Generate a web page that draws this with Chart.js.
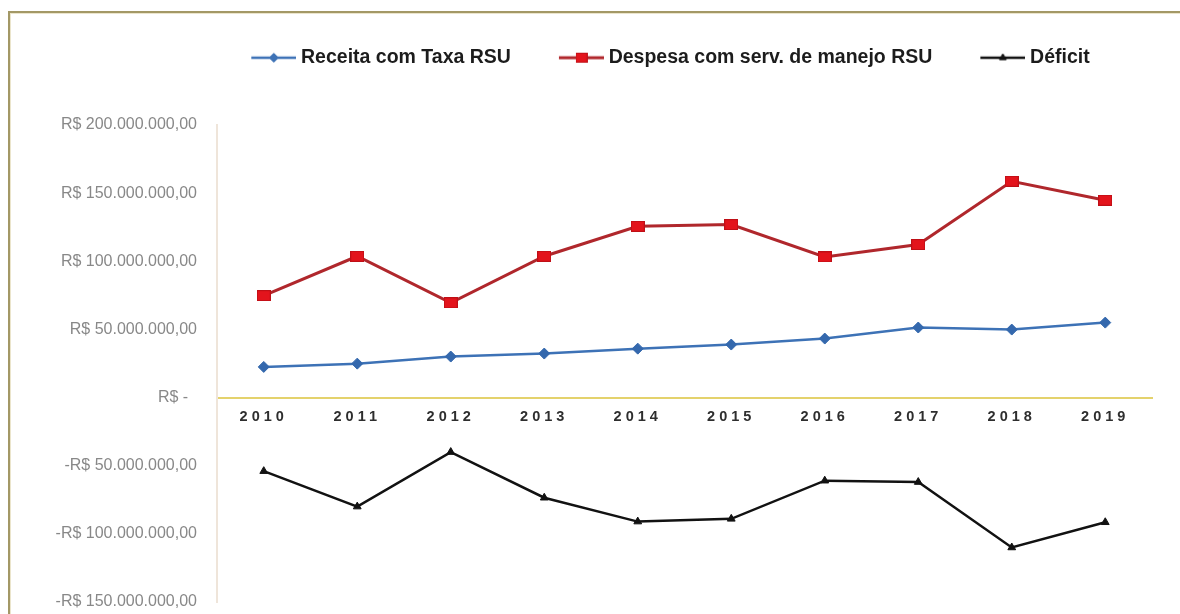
<!DOCTYPE html>
<html lang="pt-BR">
<head>
<meta charset="utf-8">
<title>Receita com Taxa RSU x Despesa com manejo RSU</title>
<script src="https://cdn.jsdelivr.net/npm/chart.js@4.4.1/dist/chart.umd.min.js"></script>
<style>
  html, body { margin: 0; padding: 0; background: #ffffff; }
  #moldura {
    position: absolute; left: 8px; top: 11px; width: 1300px; height: 700px;
    border-left: 2px solid #a39866; border-top: 2px solid #a39866;
    box-shadow: inset 1px 1px 0 #ebe5cc;
  }
  #area { position: absolute; left: 0; top: 0; width: 1180px; height: 614px; }
</style>
</head>
<body>
<div id="moldura"></div>
<div id="area"><canvas id="grafico" width="1180" height="614"></canvas></div>
<script>
// Valores em milhões de R$
const anos = ['2010', '2011', '2012', '2013', '2014', '2015', '2016', '2017', '2018', '2019'];
const receitaTaxaRSU = [22.5, 24.9, 30.1, 32.3, 35.9, 38.9, 43.3, 51.4, 49.9, 55.0];
const despesaManejoRSU = [74.8, 103.7, 69.5, 103.7, 125.7, 126.9, 103.2, 112.3, 158.7, 144.8];
const deficitRSU = [-54.0, -80.0, -40.0, -73.5, -91.0, -89.0, -61.0, -62.0, -110.0, -91.5];
const nomesSeries = ['Receita com Taxa RSU', 'Despesa com serv. de manejo RSU', 'Déficit'];
const eixoYMin = -150;
const eixoYMax = 200;
const eixoYPasso = 50;

const FONTE = '"Liberation Sans", Arial, sans-serif';
const AZUL = '#3d72b6';
const VERMELHO_LINHA = '#b0272c';
const VERMELHO_MARCA = '#e3141c';
const PRETO = '#121212';

// Formato contábil brasileiro: R$ 150.000.000,00 / -R$ 50.000.000,00 / R$ -
function formatoReais(milhoes) {
  const v = Math.round(milhoes * 1e6);
  if (v === 0) return 'R$ -  ';
  const inteiro = String(Math.abs(v)).replace(/\B(?=(\d{3})+(?!\d))/g, '.');
  return (v < 0 ? '-' : '') + 'R$ ' + inteiro + ',00';
}

function novoCanvas(w, h, desenhar) {
  const c = document.createElement('canvas');
  c.width = w; c.height = h;
  desenhar(c.getContext('2d'), w, h);
  return c;
}

// Marcador retangular vermelho da série de despesas
const marcaDespesa = novoCanvas(14, 11, (g, w, h) => {
  g.fillStyle = VERMELHO_MARCA;
  g.fillRect(0, 0, w, h);
  g.strokeStyle = '#bf0f16';
  g.lineWidth = 1;
  g.strokeRect(0.5, 0.5, w - 1, h - 1);
});

// Amostras da legenda: segmento de linha com o marcador no meio
function amostraLegenda(cor, largura, marcador) {
  return novoCanvas(80, 20, (g, w, h) => {
    g.strokeStyle = cor;
    g.lineWidth = largura;
    g.beginPath();
    g.moveTo(35, h / 2);
    g.lineTo(w, h / 2);
    g.stroke();
    marcador(g, 57.5, h / 2);
  });
}

function pontoChart(g, estilo, raio, cor, x, y) {
  g.fillStyle = cor;
  g.strokeStyle = cor;
  g.lineWidth = 1;
  if (Chart.helpers && Chart.helpers.drawPoint) {
    Chart.helpers.drawPoint(g, { pointStyle: estilo, radius: raio, rotation: 0, borderWidth: 1 }, x, y);
  } else {
    g.beginPath();
    if (estilo === 'rectRot') {
      g.moveTo(x - raio, y); g.lineTo(x, y - raio); g.lineTo(x + raio, y); g.lineTo(x, y + raio);
    } else {
      g.moveTo(x - raio, y + raio * 0.8); g.lineTo(x, y - raio); g.lineTo(x + raio, y + raio * 0.8);
    }
    g.closePath(); g.fill(); g.stroke();
  }
}

const amostras = [
  amostraLegenda(AZUL, 2.5, (g, x, y) => pontoChart(g, 'rectRot', 4.5, AZUL, x, y)),
  amostraLegenda(VERMELHO_LINHA, 3, (g, x, y) => g.drawImage(marcaDespesa, x - 6, y - 5, 12, 10)),
  amostraLegenda(PRETO, 2.5, (g, x, y) => pontoChart(g, 'triangle', 4, PRETO, x, y))
];

const ajustesDesenho = {
  id: 'ajustesDesenho',
  afterInit(chart) {
    // espaço livre entre a legenda e a área do gráfico
    const legenda = chart.legend;
    const ajustar = legenda.fit;
    legenda.fit = function () {
      ajustar.call(this);
      this.height += 47.5;
    };
  },
  beforeDraw(chart) {
    // rótulos dos anos com letras espaçadas
    const x = chart.scales.x;
    if (x && !x._espacado) {
      const original = x.drawLabels;
      x.drawLabels = function (area) {
        const g = this.ctx;
        g.save();
        g.letterSpacing = '4px';
        original.call(this, area);
        g.restore();
      };
      x._espacado = true;
    }
    // rótulos monetários podem ultrapassar a caixa estreita do eixo
    const y = chart.scales.y;
    if (y && !y._semCorte) {
      y._computeLabelArea = () => undefined;
      y._semCorte = true;
    }
  }
};

new Chart(document.getElementById('grafico'), {
  type: 'line',
  data: {
    labels: anos,
    datasets: [
      {
        label: nomesSeries[0],
        data: receitaTaxaRSU,
        borderColor: AZUL,
        backgroundColor: AZUL,
        borderWidth: 2.5,
        pointStyle: 'rectRot',
        pointRadius: 5.5,
        pointBorderWidth: 1,
        pointBackgroundColor: '#3468ad',
        pointBorderColor: '#3468ad',
        tension: 0
      },
      {
        label: nomesSeries[1],
        data: despesaManejoRSU,
        borderColor: VERMELHO_LINHA,
        backgroundColor: VERMELHO_MARCA,
        borderWidth: 3,
        pointStyle: marcaDespesa,
        pointRadius: 7,
        tension: 0
      },
      {
        label: nomesSeries[2],
        data: deficitRSU,
        borderColor: PRETO,
        backgroundColor: PRETO,
        borderWidth: 2.5,
        pointStyle: 'triangle',
        pointRadius: 4.5,
        pointBorderWidth: 1,
        pointBackgroundColor: PRETO,
        pointBorderColor: PRETO,
        tension: 0
      }
    ]
  },
  options: {
    responsive: false,
    animation: false,
    devicePixelRatio: 1,
    layout: { padding: { left: 159, right: 28, top: 30, bottom: 12 } },
    plugins: {
      tooltip: { enabled: false },
      legend: {
        position: 'top',
        align: 'center',
        fullSize: true,
        labels: {
          usePointStyle: true,
          pointStyleWidth: 70,
          padding: 18,
          color: '#1c1c1c',
          font: { family: FONTE, size: 19.5, weight: 'bold' },
          generateLabels(chart) {
            const itens = Chart.defaults.plugins.legend.labels.generateLabels(chart);
            itens.forEach((item, i) => { item.pointStyle = amostras[i]; });
            return itens;
          }
        }
      }
    },
    scales: {
      x: {
        position: { y: 0 },
        offset: true,
        grid: { display: false, drawTicks: false },
        border: { display: true, color: '#e4d26c', width: 2 },
        ticks: {
          color: '#2e2e2e',
          padding: 11,
          maxRotation: 0,
          autoSkip: false,
          font: { family: FONTE, size: 14.5, weight: 'bold' }
        },
        afterFit(s) { s.height = 0; }
      },
      y: {
        min: eixoYMin,
        max: eixoYMax,
        grid: { display: false, drawTicks: false },
        border: { display: true, color: '#efe5da', width: 2 },
        ticks: {
          stepSize: eixoYPasso,
          color: '#888888',
          padding: 20,
          font: { family: FONTE, size: 16 },
          callback: (v) => formatoReais(v)
        },
        afterFit(s) {
          s.width = 58;
          s.paddingTop = 0;
          s.paddingBottom = 0;
        }
      }
    }
  },
  plugins: [ajustesDesenho]
});
</script>
</body>
</html>
